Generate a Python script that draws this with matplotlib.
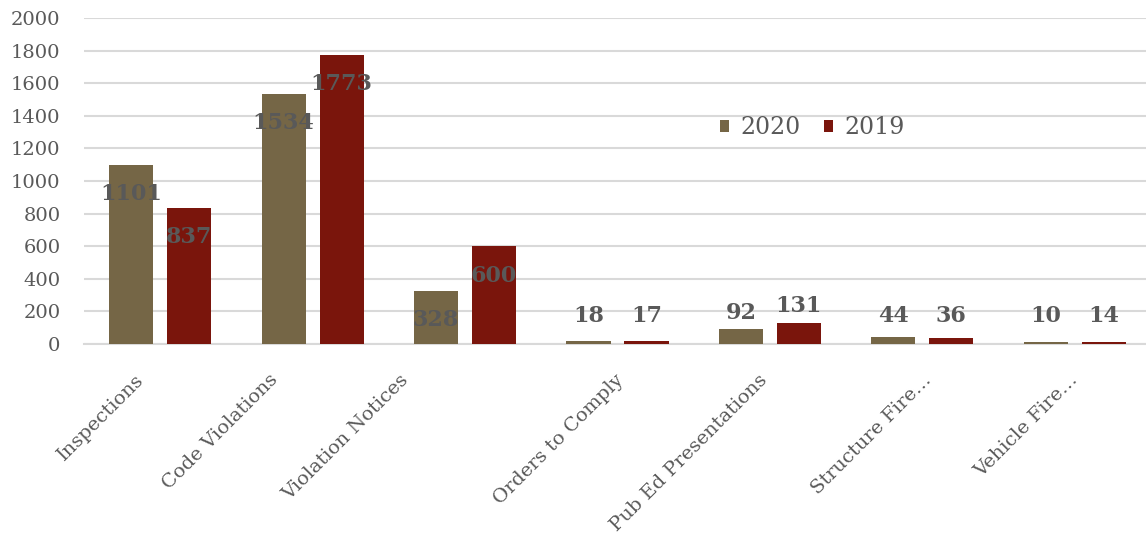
import matplotlib
matplotlib.use("Agg")
import matplotlib.pyplot as plt
import matplotlib.transforms as mtransforms
import numpy as np

categories = ["Inspections", "Code Violations", "Violation Notices", "Orders to Comply",
              "Pub Ed Presentations", "Structure Fire\u2026", "Vehicle Fire\u2026"]
values_2020 = [1101, 1534, 328, 18, 92, 44, 10]
values_2019 = [837, 1773, 600, 17, 131, 36, 14]
series_names = ["2020", "2019"]
yticks = [0, 200, 400, 600, 800, 1000, 1200, 1400, 1600, 1800, 2000]

c2020 = "#756646"
c2019 = "#7a150c"
text_gray = "#595959"
grid_gray = "#d9d9d9"
font = "DejaVu Serif"

W, H = 1146, 542
fig = plt.figure(figsize=(W / 100, H / 100), dpi=100)
ax = fig.add_axes([84 / W, (H - 344) / H, (1151 - 84) / W, (344 - 18) / H])

x = np.arange(len(categories))
bw = 0.29
off = 0.19
b1 = ax.bar(x - off, values_2020, bw, color=c2020, label=series_names[0], zorder=3)
b2 = ax.bar(x + off, values_2019, bw, color=c2019, label=series_names[1], zorder=3)

ax.set_xlim(-0.5, len(categories) - 0.5)
ax.set_ylim(0, 2000)
ax.set_yticks(yticks)
ax.set_yticklabels([str(t) for t in yticks], fontsize=14, color=text_gray, family=font)
ax.tick_params(axis="y", length=0, pad=17)
ax.tick_params(axis="x", length=0, pad=24)
ax.set_xticks(x)
ax.set_xticklabels(categories, rotation=45, ha="right", va="center", rotation_mode="anchor",
                   fontsize=14, color=text_gray, family=font)
# horizontal nudges (pixels) of the rotated category labels, as in the reference layout
label_nudge_px = [-19, -38, -59, 3, -5, 6, 0]
for lbl, dx in zip(ax.get_xticklabels(), label_nudge_px):
    shift = mtransforms.ScaledTranslation(dx / 100, 0, fig.dpi_scale_trans)
    lbl.set_transform(lbl.get_transform() + shift)

ax.grid(axis="y", color=grid_gray, linewidth=1.5, zorder=0)
for s in ["top", "right", "left"]:
    ax.spines[s].set_visible(False)
ax.spines["bottom"].set_color(grid_gray)
ax.spines["bottom"].set_linewidth(1.5)


def label_y(v):
    if v >= 300:
        return v - 180
    return max(v + 100, 172)


for xs, vals in [(x - off, values_2020), (x + off, values_2019)]:
    for xi, v in zip(xs, vals):
        ax.text(xi, label_y(v), str(v), ha="center", va="center", fontsize=16,
                fontweight="bold", color=text_gray, family=font, zorder=5)

leg = fig.legend(handles=[b1, b2], labels=series_names, loc="center left",
                 bbox_to_anchor=(699 / W, 1 - 128 / H), ncol=2, frameon=False,
                 handlelength=0.36, handleheight=0.36, handletextpad=0.5,
                 columnspacing=1.0, prop={"family": font, "size": 17})
for t in leg.get_texts():
    t.set_color(text_gray)

fig.savefig("out.png", dpi=100)
